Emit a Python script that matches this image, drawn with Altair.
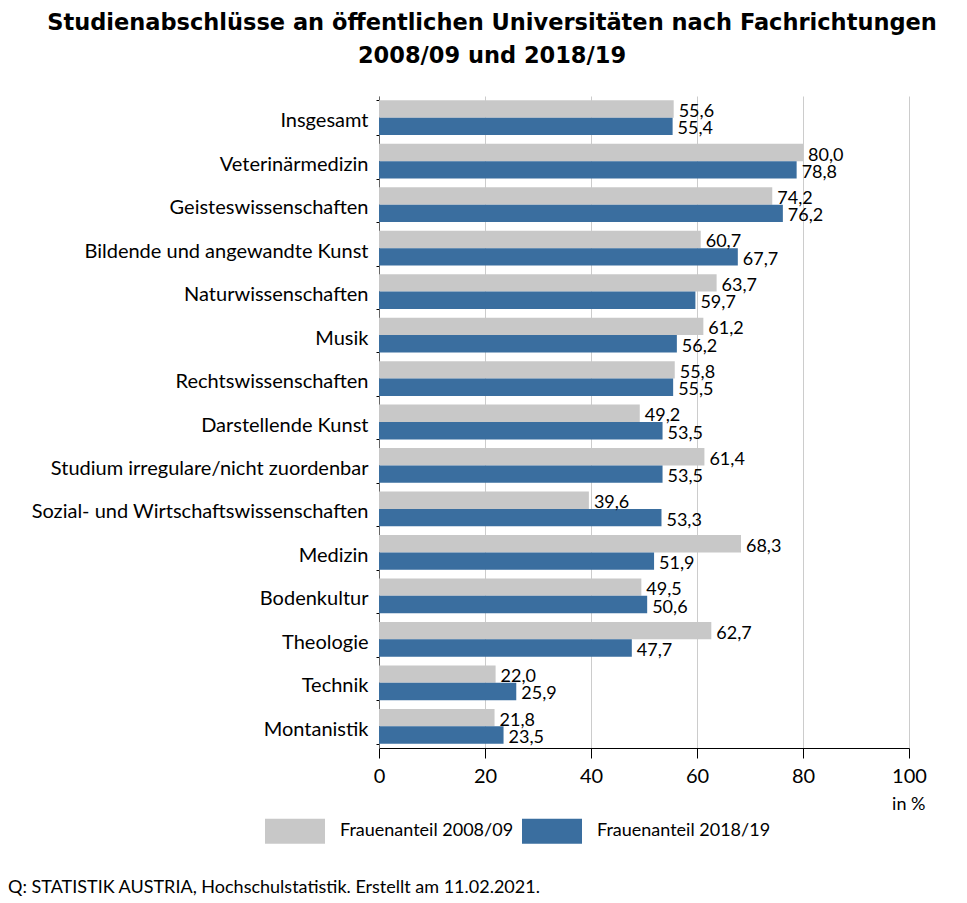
import altair as alt
import pandas as pd

categories = [
    "Insgesamt", "Veterinärmedizin", "Geisteswissenschaften",
    "Bildende und angewandte Kunst", "Naturwissenschaften", "Musik",
    "Rechtswissenschaften", "Darstellende Kunst",
    "Studium irregulare/nicht zuordenbar",
    "Sozial- und Wirtschaftswissenschaften", "Medizin", "Bodenkultur",
    "Theologie", "Technik", "Montanistik",
]
values_2008 = [55.6, 80.0, 74.2, 60.7, 63.7, 61.2, 55.8, 49.2, 61.4, 39.6, 68.3, 49.5, 62.7, 22.0, 21.8]
values_2018 = [55.4, 78.8, 76.2, 67.7, 59.7, 56.2, 55.5, 53.5, 53.5, 53.3, 51.9, 50.6, 47.7, 25.9, 23.5]
series_names = ["Frauenanteil 2008/09", "Frauenanteil 2018/19"]
x_ticks = [0, 20, 40, 60, 80, 100]
title_lines = ["Studienabschlüsse an öffentlichen Universitäten nach Fachrichtungen",
               "2008/09 und 2018/19"]
source_text = ["Q: STATISTIK AUSTRIA, Hochschulstatistik. Erstellt am 11.02.2021."]

rows = []
for c, a, b in zip(categories, values_2008, values_2018):
    for s, v in zip(series_names, (a, b)):
        rows.append({"Fach": c, "Serie": s, "Wert": v,
                     "Label": f"{v:.1f}".replace(".", ",")})
df = pd.DataFrame(rows)

FONT = "Lato"

y = alt.Y("Fach:N", sort=categories,
          scale=alt.Scale(paddingInner=0.2, paddingOuter=0.1),
          axis=alt.Axis(title=None, labelFontSize=20, labelColor="black", labelFont=FONT,
                        labelPadding=8, labelLimit=400, labelOffset=3,
                        domainColor="#666666",
                        tickColor="black", tickSize=3, tickBand="extent", grid=False))
x = alt.X("Wert:Q", scale=alt.Scale(domain=[0, 100], nice=False),
          axis=alt.Axis(values=x_ticks, title="in %", titleX=546, titleY=56,
                        titleAlign="right", titleBaseline="middle", titleFontSize=18,
                        titleFontWeight="normal", titleFont=FONT, titleColor="black",
                        labelFontSize=20, labelFont=FONT, labelColor="black",
                        domainColor="black", tickColor="black", tickSize=10,
                        labelPadding=8, gridColor="#cccccc", labelFlush=False))
color = alt.Color("Serie:N",
                  scale=alt.Scale(domain=series_names, range=["#c8c8c8", "#3a6e9f"]),
                  legend=alt.Legend(title=None, orient="none", legendX=-114, legendY=705,
                                    direction="horizontal",
                                    symbolType="M-1,-0.4167L1,-0.4167L1,0.4167L-1,0.4167Z",
                                    symbolSize=3600, symbolStrokeWidth=0, symbolOpacity=1,
                                    labelFontSize=18, labelFont=FONT, labelColor="black",
                                    labelLimit=400, labelOffset=15, columnPadding=8))
y_off = alt.YOffset("Serie:N", sort=series_names,
                    scale=alt.Scale(paddingInner=0, paddingOuter=0))

bars = alt.Chart(df).mark_bar().encode(y=y, x=x, color=color, yOffset=y_off)
labels = alt.Chart(df).mark_text(align="left", baseline="middle", dx=5, dy=3,
                                 fontSize=18, font=FONT, color="black").encode(
    y=y, x="Wert:Q", yOffset=y_off, text="Label:N")
source = alt.Chart(pd.DataFrame({"t": source_text})).mark_text(
    align="left", baseline="middle", fontSize=18, font=FONT, color="black").encode(
    x=alt.value(-371), y=alt.value(792), text="t:N")

chart = alt.layer(bars, labels, source).properties(
    width=530, height=652,
    title=alt.TitleParams(title_lines, fontSize=22.5, font="DejaVu Sans", fontWeight="bold",
                          anchor="middle", dx=-152, offset=19, lineHeight=33, color="black"),
    autosize=alt.AutoSizeParams(type="none"),
    padding={"left": 371, "top": 88, "right": 46, "bottom": 170},
).configure_view(stroke=None)

chart.save("out.html", embed_options={"renderer": "svg", "actions": False})
